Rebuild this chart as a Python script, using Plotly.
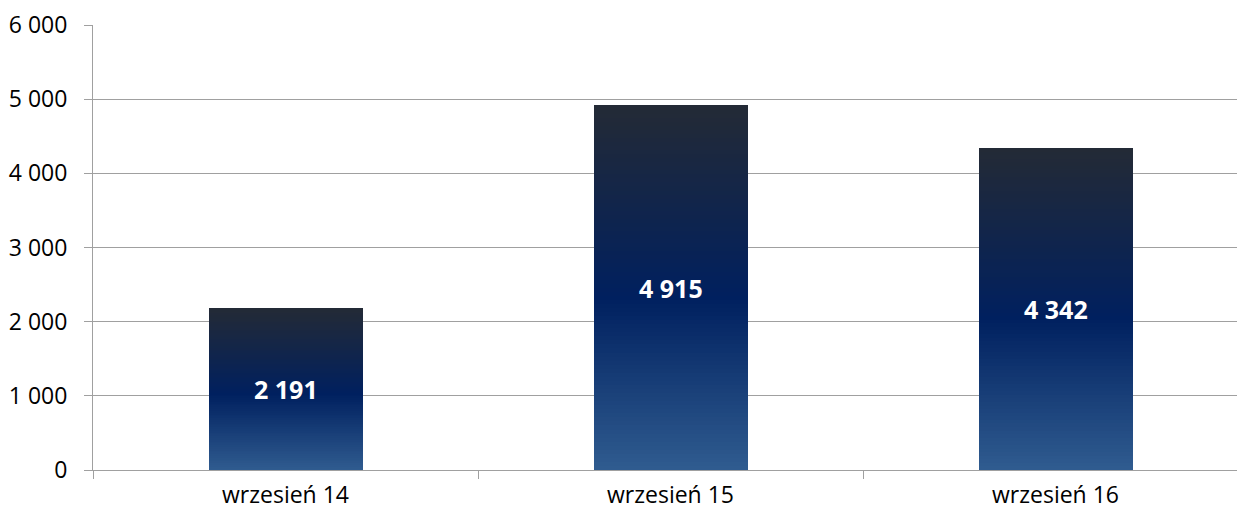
import plotly.graph_objects as go
from plotly.colors import sample_colorscale

# Data
categories = ["wrzesień 14", "wrzesień 15", "wrzesień 16"]
values = [2191, 4915, 4342]
y_ticks = [0, 1000, 2000, 3000, 4000, 5000, 6000]

# Vertical gradient of each bar, bottom (0) to top (1)
gradient = [
    [0.0, "#2F5B8F"],
    [0.47, "#00205F"],
    [1.0, "#232A36"],
]
n_slices = 90

fig = go.Figure()

# Each bar is built from thin stacked slices, each a fixed share of its value
colors = sample_colorscale(gradient, [i / (n_slices - 1) for i in range(n_slices)])
for c in colors:
    fig.add_trace(go.Bar(
        x=categories,
        y=[v / n_slices for v in values],
        marker=dict(color=c, line=dict(width=0)),
        hoverinfo="skip",
        showlegend=False,
    ))

# Value labels centred in each bar
for cat, v in zip(categories, values):
    fig.add_annotation(
        x=cat,
        y=v / 2,
        text=f"{v:,}".replace(",", " "),
        showarrow=False,
        font=dict(family="Open Sans", size=25, color="white", weight="bold"),
    )

W, H = 1237, 514
left, top, bottom = 93, 25, 44
cat_px = 385
plot_w = W - left

fig.update_layout(
    width=W,
    height=H,
    margin=dict(l=left, r=0, t=top, b=bottom, pad=0, autoexpand=False),
    barmode="stack",
    bargap=0.6,
    plot_bgcolor="white",
    paper_bgcolor="white",
    separators=", ",
    font=dict(family="Open Sans", size=23, color="#000000"),
    xaxis=dict(
        range=[-0.5, -0.5 + plot_w / cat_px],
        automargin=False,
        showline=True,
        linecolor="#A0A0A0",
        linewidth=1,
        ticks="outside",
        tickson="boundaries",
        ticklen=8,
        tickcolor="#A0A0A0",
        showgrid=False,
        ticklabelstandoff=4,
        tickfont=dict(family="Open Sans", size=23),
    ),
    yaxis=dict(
        range=[0, 6000],
        automargin=False,
        tickvals=y_ticks,
        tickformat=",d",
        showline=True,
        linecolor="#A0A0A0",
        linewidth=1,
        ticks="outside",
        ticklen=8,
        tickcolor="#A0A0A0",
        showgrid=True,
        gridcolor="#A0A0A0",
        gridwidth=1,
        zeroline=False,
        ticklabelstandoff=12,
        tickfont=dict(family="Open Sans", size=23),
    ),
)

fig.write_html("out.html")
